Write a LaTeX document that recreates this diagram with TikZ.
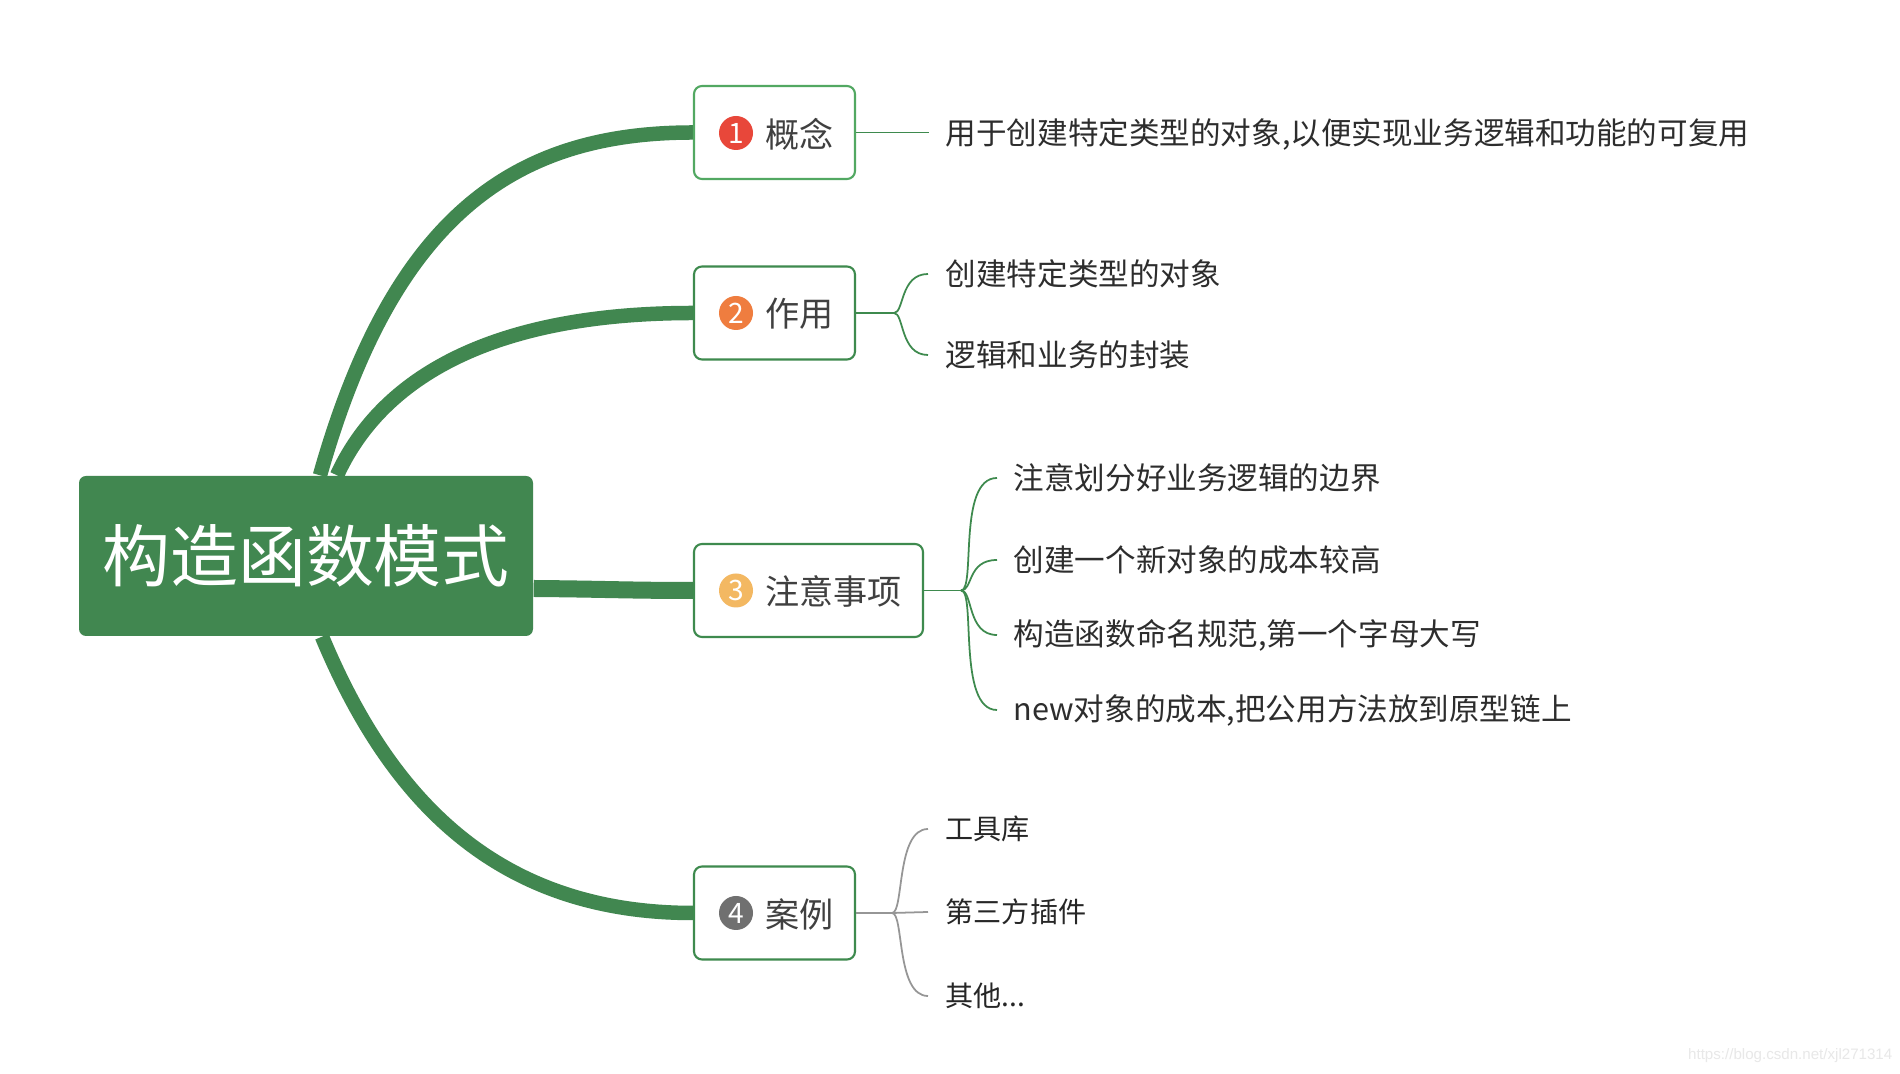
\documentclass[tikz,border=0pt]{standalone}
\usepackage{fontspec}
\setmainfont{Noto Sans CJK SC}
\newfontfamily\wmfont{Liberation Sans}
\usetikzlibrary{calc}
\definecolor{mgreen}{RGB}{65,135,80}
\definecolor{bgreen}{RGB}{62,138,78}
\definecolor{lgreen}{RGB}{82,168,98}
\definecolor{tgray}{RGB}{64,64,64}
\definecolor{lgray}{RGB}{45,45,45}
\definecolor{cred}{RGB}{232,71,58}
\definecolor{corange}{RGB}{239,125,63}
\definecolor{cyellow}{RGB}{243,184,98}
\definecolor{cgray}{RGB}{112,112,112}
\definecolor{twiggray}{RGB}{150,150,150}
\pgfdeclarelayer{bg}
\pgfsetlayers{bg,main}
\begin{document}
\begin{tikzpicture}[x=0.1mm,y=-0.1mm,
  topic/.style={draw=bgreen, line width=0.6pt, rounded corners=0.8mm, fill=white, minimum height=9.3mm, minimum width=16.1mm, inner sep=0},
  badge/.style={circle, minimum size=3.4mm, inner sep=0, text=white, font=\fontsize{8pt}{8pt}\selectfont},
  ttext/.style={anchor=west, inner sep=0, text=tgray, font=\fontsize{9.7pt}{10pt}\selectfont},
  leaf/.style={anchor=west, inner sep=0, text=lgray, font=\fontsize{8.7pt}{9pt}\selectfont},
  sleaf/.style={leaf, text=black!85, font=\fontsize{8pt}{9pt}\selectfont},
  branch/.style={draw=mgreen, line width=1.45mm},
  twig/.style={draw=bgreen, line width=0.5pt},
  gtwig/.style={draw=twiggray, line width=0.5pt},
]
\useasboundingbox (0,0) rectangle (1900,1074);

% root
\node[fill=mgreen, rounded corners=0.7mm, minimum width=45.4mm, minimum height=16mm,
      text=white, font=\fontsize{19.3pt}{19.3pt}\selectfont, inner sep=0] (root) at (306,556) {构造函数模式};

% topics
\node[topic, draw=lgreen] (c1) at (774.5,132.5) {};
\node[badge, fill=cred] (b1) at (736,133) {1};
\node[ttext] (t1) at (765,134) {概念};

\node[topic] (c2) at (774.5,313) {};
\node[badge, fill=corange] (b2) at (736,313) {2};
\node[ttext] (t2) at (765,314) {作用};

\node[topic, minimum width=22.9mm] (c3) at (808.5,590.5) {};
\node[badge, fill=cyellow] (b3) at (736,590.5) {3};
\node[ttext] (t3) at (765,591.5) {注意事项};

\node[topic] (c4) at (774.5,913) {};
\node[badge, fill=cgray] (b4) at (736,913) {4};
\node[ttext] (t4) at (765,914) {案例};

% leaves
\node[leaf] (l11) at (945,134) {用于创建特定类型的对象,以便实现业务逻辑和功能的可复用};
\node[leaf] (l21) at (945,274) {创建特定类型的对象};
\node[leaf] (l22) at (945,355) {逻辑和业务的封装};
\node[leaf] (l31) at (1013,478) {注意划分好业务逻辑的边界};
\node[leaf] (l32) at (1013,560) {创建一个新对象的成本较高};
\node[leaf] (l33) at (1013,635) {构造函数命名规范,第一个字母大写};
\node[leaf] (l34) at (1013,710) {new对象的成本,把公用方法放到原型链上};
\node[sleaf] (l41) at (945,829) {工具库};
\node[sleaf] (l42) at (945,912) {第三方插件};
\node[sleaf] (l43) at (945,996) {其他...};

% watermark
\node[anchor=east, inner sep=0, text=black!9, font=\wmfont\fontsize{4.3pt}{5pt}\selectfont] (wm) at (1893,1056) {https://blog.csdn.net/xjl271314};

% junctions
\coordinate (j2) at ($(c2.east)+(38,0)$);
\coordinate (j3) at ($(c3.east)+(37,0)$);
\coordinate (j4) at ($(c4.east)+(36,0)$);

\begin{pgfonlayer}{bg}
  \fill[white] (0,0) rectangle (1900,1074);
  \draw[branch] ($(root.north)+(14,0)$) .. controls (393,217) and (513,132.5) .. (c1.west);
  \draw[branch] ($(root.north)+(31,0)$) .. controls (382,377) and (493,313) .. (c2.west);
  \draw[branch, line width=1.7mm] ($(root.east |- c3.west)+(0,-2)$) .. controls (600,589) and (630,590.5) .. (c3.west);
  \draw[branch] ($(root.south)+(16,0)$) .. controls (388,795) and (493,913) .. (c4.west);
\end{pgfonlayer}

% twigs
\draw[twig] (c1.east) -- ([xshift=-1.6mm]l11.west |- c1.east);

\draw[twig] (c2.east) -- (j2);
\draw[twig] (j2) .. controls +(10,0) and +(-28,0) .. ([xshift=-1.7mm]l21.west);
\draw[twig] (j2) .. controls +(10,0) and +(-28,0) .. ([xshift=-1.7mm]l22.west);

\draw[twig] (c3.east) -- (j3);
\draw[twig] (j3) .. controls +(15,0) and +(-40,0) .. ([xshift=-1.6mm]l31.west);
\draw[twig] (j3) .. controls +(12,0) and +(-30,0) .. ([xshift=-1.6mm]l32.west);
\draw[twig] (j3) .. controls +(12,0) and +(-30,0) .. ([xshift=-1.6mm]l33.west);
\draw[twig] (j3) .. controls +(15,0) and +(-40,0) .. ([xshift=-1.6mm]l34.west);

\draw[gtwig] (c4.east) -- (j4);
\draw[gtwig] (j4) .. controls +(12,0) and +(-32,0) .. ([xshift=-1.7mm]l41.west);
\draw[gtwig] (j4) -- ([xshift=-1.7mm]l42.west);
\draw[gtwig] (j4) .. controls +(12,0) and +(-32,0) .. ([xshift=-1.7mm]l43.west);
\end{tikzpicture}
\end{document}
